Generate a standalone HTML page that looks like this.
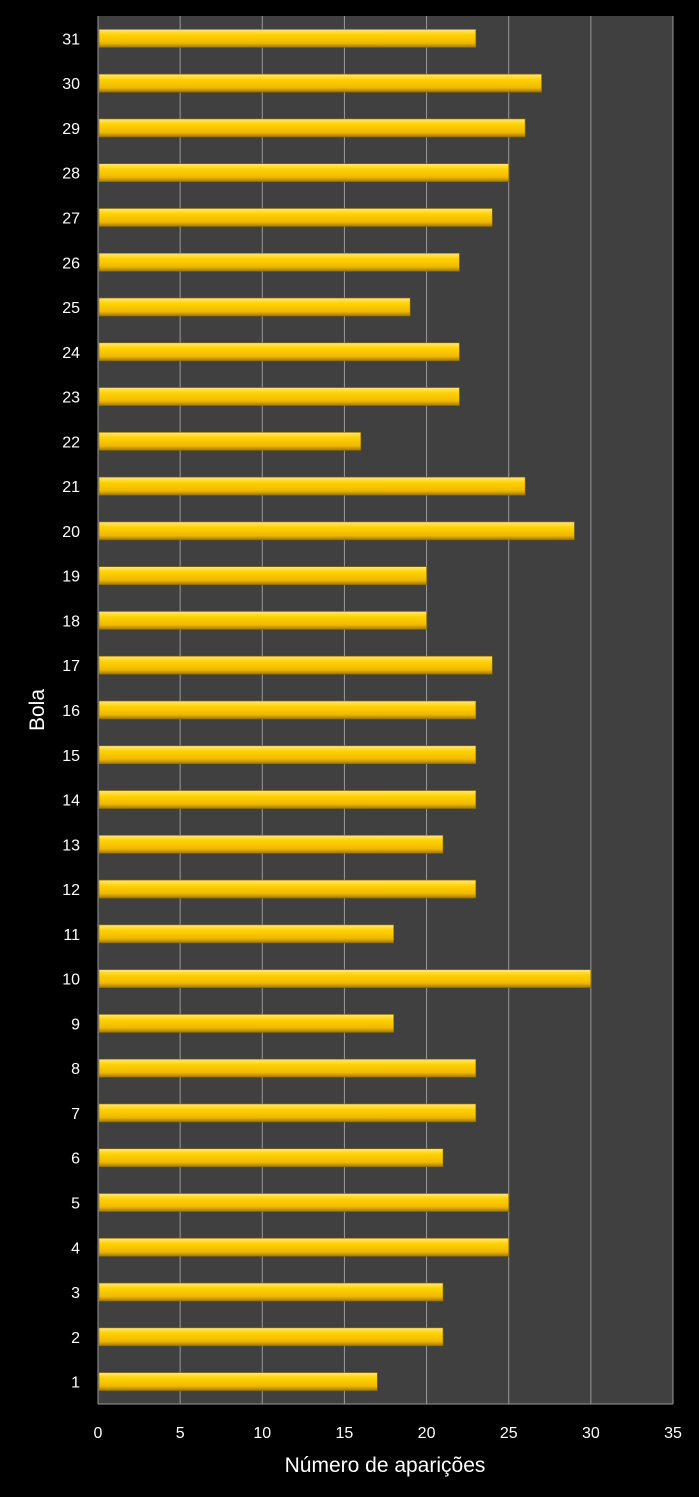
<!DOCTYPE html>
<html><head><meta charset="utf-8"><style>
body{margin:0;background:#000;width:699px;height:1497px;overflow:hidden}
svg{display:block}
text{font-family:"Liberation Sans",sans-serif;fill:#fff}
</style></head><body>
<svg id="chart" width="699" height="1497">
<defs>
<linearGradient id="g" x1="0" y1="0" x2="0" y2="1">
<stop offset="0" stop-color="#ffe680"/><stop offset="0.3" stop-color="#ffd200"/><stop offset="0.75" stop-color="#f0b800"/><stop offset="1" stop-color="#a07800"/>
</linearGradient>
</defs>
<rect x="98" y="16" width="575" height="1388" fill="#404040"/>
<g id="grid"></g><g id="bars"></g><g id="ylab"></g><g id="xlab"></g>
<text x="385" y="1472" font-size="21" text-anchor="middle">Número de aparições</text>
<text transform="translate(44,710) rotate(-90)" font-size="21" text-anchor="middle">Bola</text>
</svg>
<script>
const categories=[1,2,3,4,5,6,7,8,9,10,11,12,13,14,15,16,17,18,19,20,21,22,23,24,25,26,27,28,29,30,31];
const values=[17,21,21,25,25,21,23,23,18,30,18,23,21,23,23,23,24,20,20,29,26,16,22,22,19,22,24,25,26,27,23];
const xTicks=[0,5,10,15,20,25,30,35];
const NS="http://www.w3.org/2000/svg";
const x0=98,x1=673,y0=16,y1=1404,xmax=35;
const xs=v=>x0+(x1-x0)*v/xmax;
const band=(y1-y0)/categories.length;
const ys=i=>y1-band*(i+0.5);
function mk(t,a,p){const e=document.createElementNS(NS,t);for(const k in a)e.setAttribute(k,a[k]);document.getElementById(p).appendChild(e);return e;}
xTicks.forEach(t=>{
 if(t>0){const l=mk('line',{x1:xs(t),x2:xs(t),y1:y0,y2:y1,stroke:'#9a9a9a','stroke-width':1},'grid');
 
 }
 const tx=mk('text',{x:xs(t),y:1438,'font-size':16,'text-anchor':'middle'},'xlab');tx.textContent=t;
 
 
});
const ax=mk('line',{x1:x0,x2:x0,y1:y0,y2:y1,stroke:'#9a9a9a'},'grid');


const bx=mk('line',{x1:x0,x2:x1,y1:y1,y2:y1,stroke:'#9a9a9a'},'grid');


categories.forEach((c,i)=>{
 const r=mk('rect',{x:x0+1,y:ys(i)-9,width:xs(values[i])-x0-1,height:18,fill:'url(#g)',stroke:'#8a6a00','stroke-width':0.6},'bars');
 
 
 const t=mk('text',{x:80,y:ys(i)+6,'font-size':16,'text-anchor':'end'},'ylab');t.textContent=c;
 
 
});
</script>
</body></html>
